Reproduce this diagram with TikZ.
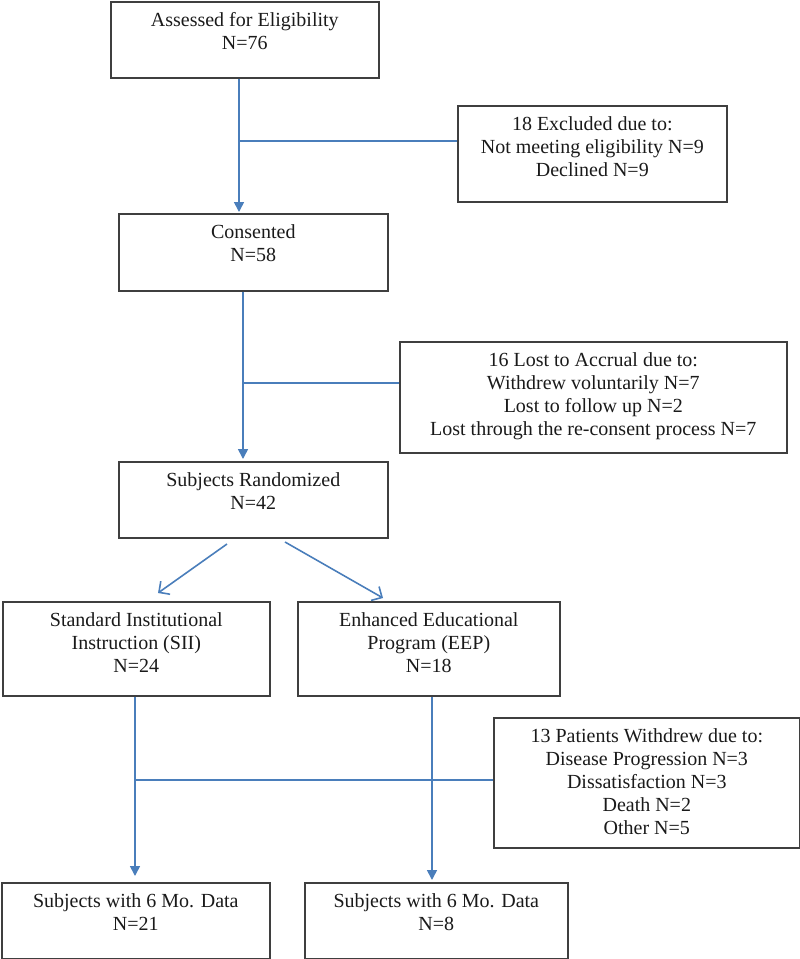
\documentclass[tikz,border=0pt]{standalone}
\usepackage{fontspec}
\setmainfont{Liberation Serif}
\usetikzlibrary{arrows.meta}
\definecolor{lnblue}{HTML}{4A7EBB}
\definecolor{bxgray}{HTML}{3F3F3F}
\definecolor{txtc}{HTML}{1A1A1A}
\begin{document}
\begin{tikzpicture}[x=1pt,y=-1pt,
  bx/.style={draw=bxgray, line width=1.6pt, inner sep=0pt, anchor=north west},
  txt/.style={anchor=north, inner sep=0pt, align=center, text=txtc,
    font=\fontsize{20}{23}\selectfont, yshift=-9pt},
  ln/.style={draw=lnblue, line width=1.3pt},
  arrf/.style={ln, line width=1.6pt, -{Triangle[length=10pt,width=10pt]}},
  arro/.style={ln, line width=1.6pt, -{Straight Barb[length=8pt,width=16pt]}}]
\useasboundingbox (0,0) rectangle (800,959);

% boxes
\node[bx, minimum width=268pt, minimum height=76pt]  (b1)   at (110,1)   {};
\node[bx, minimum width=269pt, minimum height=96pt]  (excl) at (457,105) {};
\node[bx, minimum width=269pt, minimum height=77pt]  (cons) at (118,213) {};
\node[bx, minimum width=387pt, minimum height=111pt] (lost) at (399,341) {};
\node[bx, minimum width=269pt, minimum height=76pt]  (rand) at (118,461) {};
\node[bx, minimum width=267pt, minimum height=94pt]  (sii)  at (2,601)   {};
\node[bx, minimum width=262pt, minimum height=94pt]  (eep)  at (297,601) {};
\node[bx, minimum width=306pt, minimum height=130pt] (pat)  at (493,717) {};
\node[bx, minimum width=268pt, minimum height=76pt]  (d1)   at (1,882)   {};
\node[bx, minimum width=263pt, minimum height=76pt]  (d2)   at (304,882) {};

% texts
\node[txt] (tb1)   at (b1.north)   {\strut Assessed for Eligibility\\N=76};
\node[txt] (texcl) at (excl.north) {\strut 18 Excluded due to:\\Not meeting eligibility N=9\\Declined N=9};
\node[txt] (tcons) at (cons.north) {\strut Consented\\N=58};
\node[txt] (tlost) at (lost.north) {\strut 16 Lost to Accrual due to:\\Withdrew voluntarily N=7\\Lost to follow up N=2\\Lost through the re-consent process N=7};
\node[txt] (trand) at (rand.north) {\strut Subjects Randomized\\N=42};
\node[txt] (tsii)  at (sii.north)  {\strut Standard Institutional\\Instruction (SII)\\N=24};
\node[txt] (teep)  at (eep.north)  {\strut Enhanced Educational\\Program (EEP)\\N=18};
\node[txt] (tpat)  at (pat.north)  {\strut 13 Patients Withdrew due to:\\Disease Progression N=3\\Dissatisfaction N=3\\Death N=2\\Other N=5};
\node[txt] (td1)   at (d1.north)   {\strut Subjects with 6 Mo. Data\\N=21};
\node[txt] (td2)   at (d2.north)   {\strut Subjects with 6 Mo. Data\\N=8};

% connectors
\coordinate (j1) at (239,141);
\draw[arrf, shorten >=1pt] (b1.south -| j1) -- (cons.north -| j1);
\draw[ln] (j1) -- (j1 -| excl.west);

\coordinate (j2) at (243,383);
\draw[arrf, shorten >=2pt] (cons.south -| j2) -- (rand.north -| j2);
\draw[ln] (j2) -- (j2 -| lost.west);

\coordinate (r1) at (227,544);
\coordinate (s1) at (158,593);
\coordinate (r2) at (285,542);
\coordinate (s2) at (383,598);
\draw[arro] (r1) -- (s1);
\draw[arro] (r2) -- (s2);

\coordinate (j3) at (135,780);
\coordinate (j4) at (432,780);
\draw[arrf, shorten >=6pt] (sii.south -| j3) -- (d1.north -| j3);
\draw[arrf, shorten >=2pt] (eep.south -| j4) -- (d2.north -| j4);
\draw[ln] (j3) -- (j3 -| pat.west);
\end{tikzpicture}
\end{document}
